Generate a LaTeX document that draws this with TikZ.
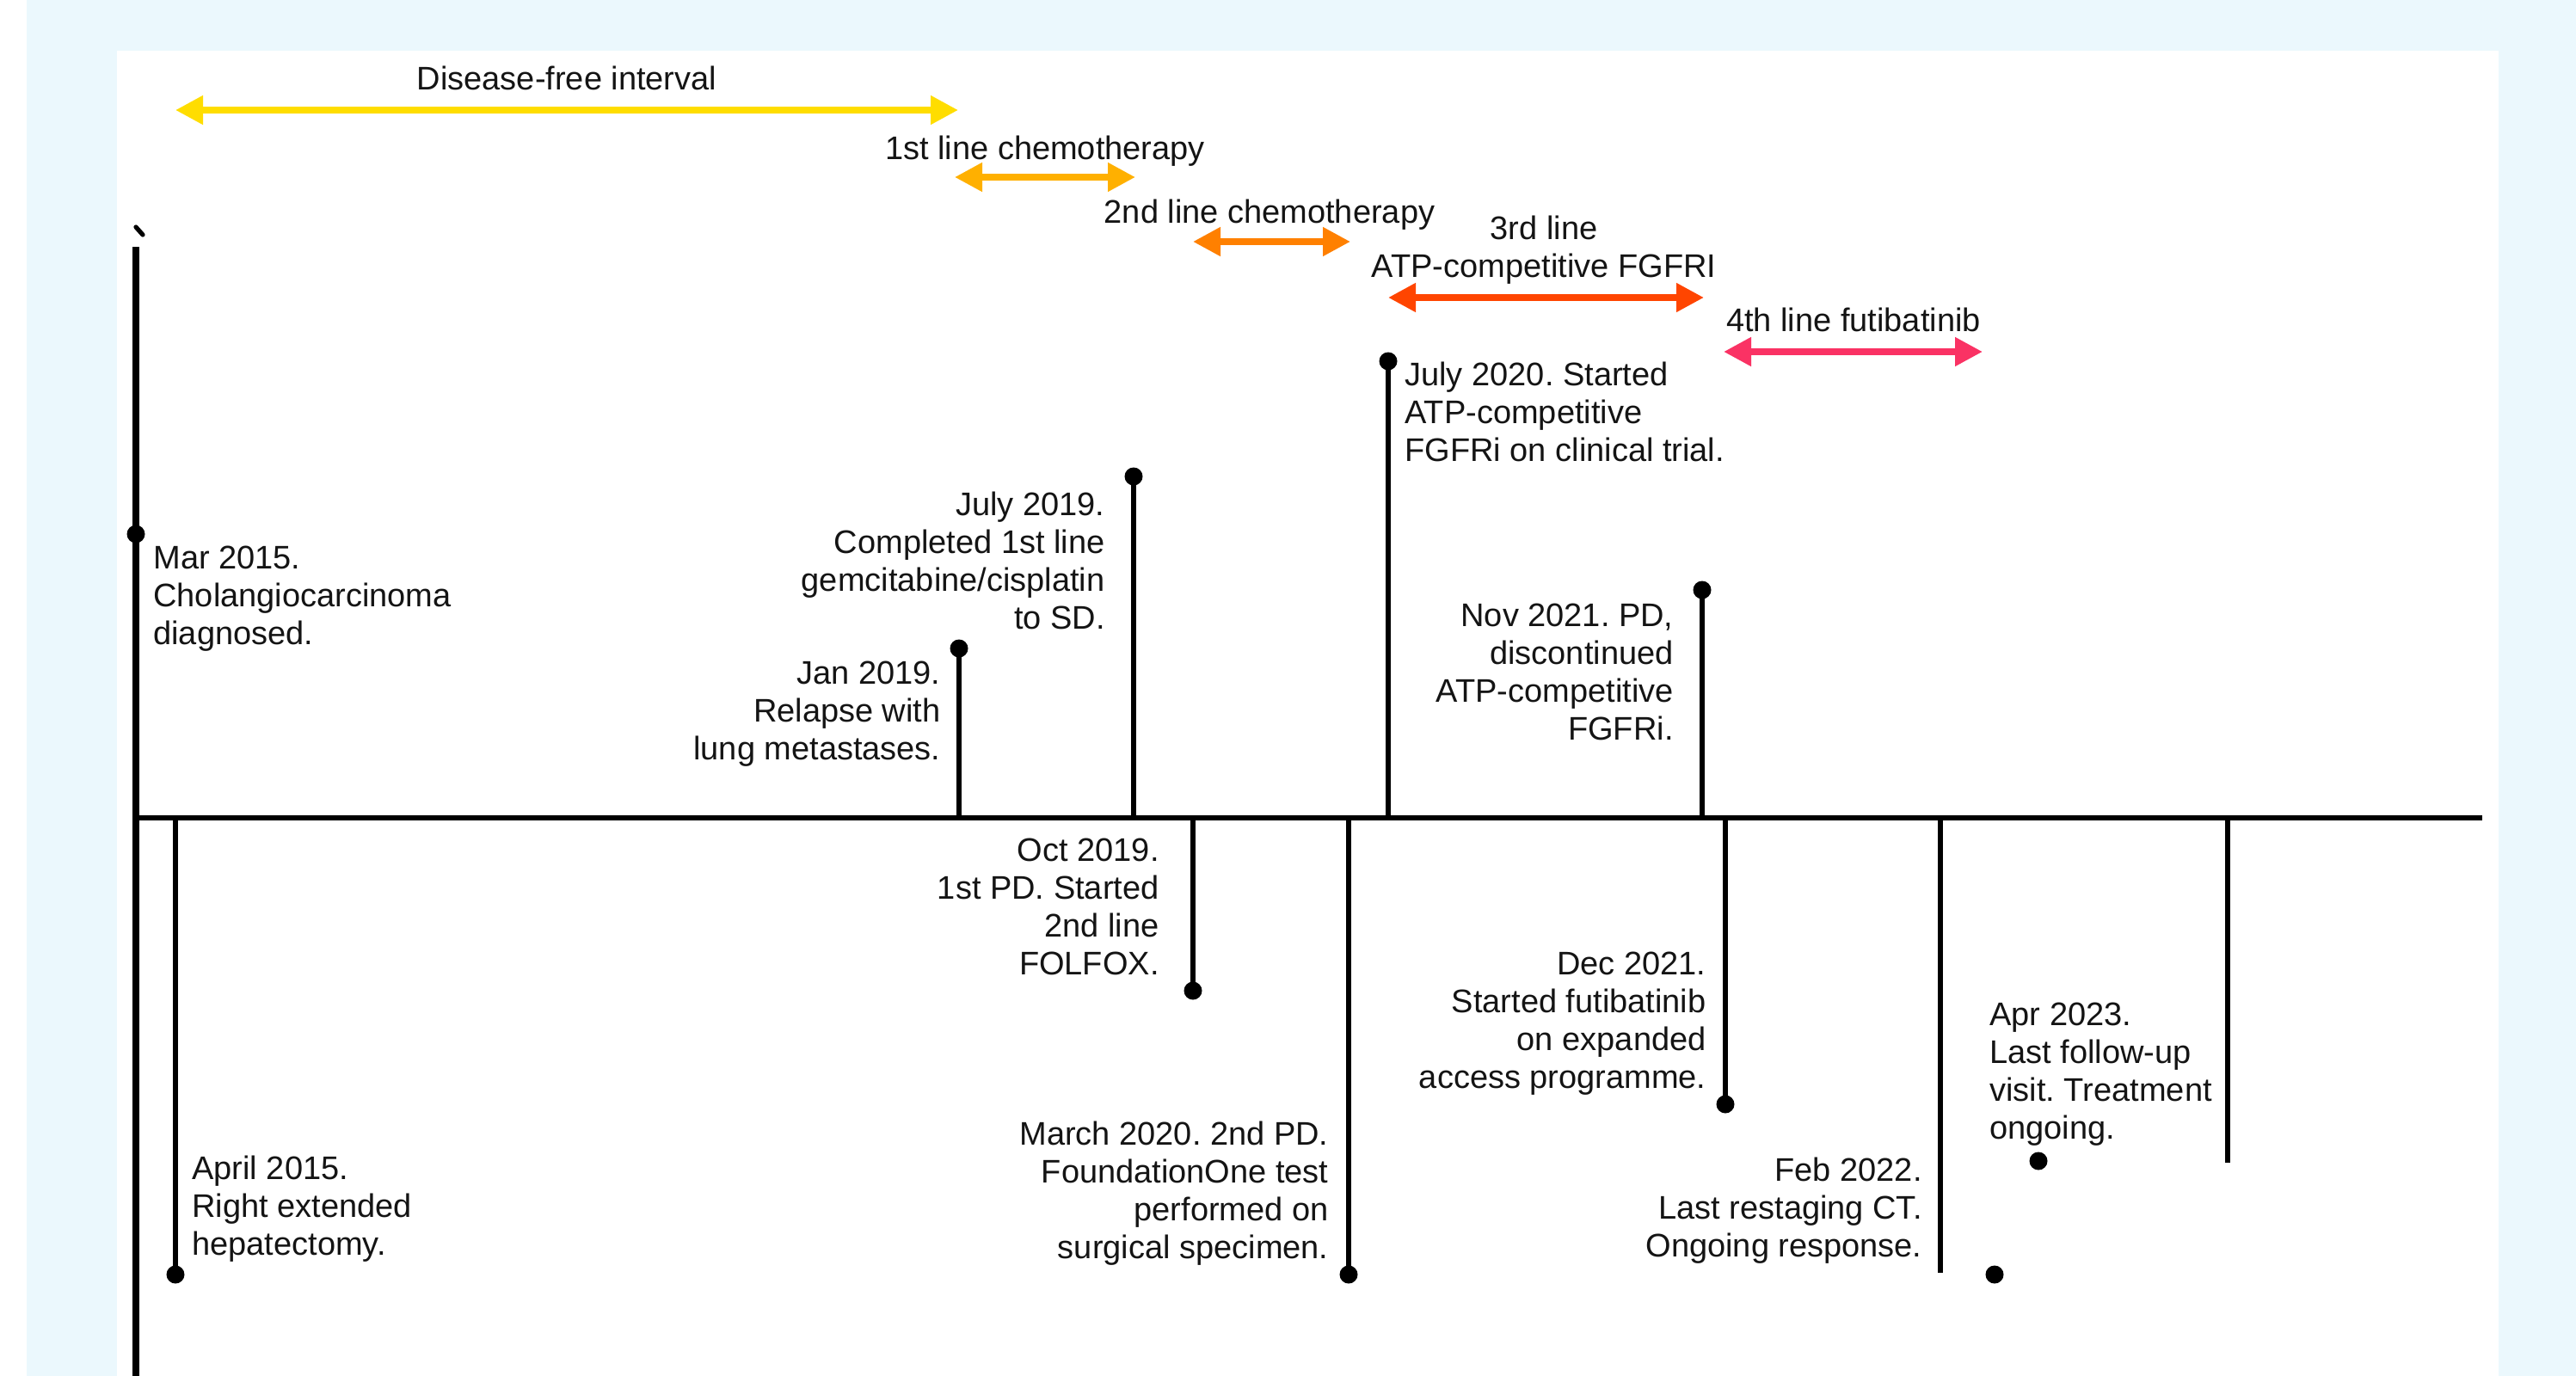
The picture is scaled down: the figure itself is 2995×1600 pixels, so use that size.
\documentclass[tikz,border=0pt]{standalone}
\usepackage{fontspec}
\setmainfont{Liberation Sans}
\usetikzlibrary{arrows.meta}
\definecolor{bgblue}{RGB}{235,248,253}
\definecolor{cDFI}{RGB}{255,221,0}
\definecolor{cLa}{RGB}{255,176,0}
\definecolor{cLb}{RGB}{255,128,0}
\definecolor{cLc}{RGB}{255,69,0}
\definecolor{cLd}{RGB}{250,50,100}
\definecolor{ink}{RGB}{20,20,20}
\frenchspacing
\begin{document}
\begin{tikzpicture}[x=0.5pt,y=-0.5pt,
  lbl/.style={font=\fontsize{19}{22}\selectfont\frenchspacing, text=ink, inner sep=0pt},
  evL/.style={lbl, anchor=north west, align=left},
  evR/.style={lbl, anchor=north east, align=right},
  dotnode/.style={circle, fill=black, inner sep=0pt, minimum size=10.5pt},
  mainline/.style={line width=3.6pt, black},
  axisline/.style={line width=3.2pt, black},
  stem/.style={line width=2.8pt, black},
  span/.style={line width=3.8pt, {Triangle[length=16pt,width=16pt]}-{Triangle[length=16pt,width=16pt]}}
]
\useasboundingbox (0,0) rectangle (2995,1600);
\fill[bgblue] (31,0) rectangle (2995,1600);
\fill[white] (136,59) rectangle (2905,1600);

% main vertical line and axis
\coordinate (vtop) at (158,287);
\coordinate (vbot) at (158,1600);
\draw[mainline] (vtop) -- (vbot);
\coordinate (tk1) at (158,264);
\coordinate (tk2) at (166,273);
\draw[line width=2.6pt, line cap=round] (tk1) -- (tk2);
\coordinate (ax0) at (158,951);
\coordinate (ax1) at (2886,951);
\draw[axisline] (ax0) -- (ax1);

% axis anchor points
\coordinate (aApr15) at (204,951);
\coordinate (aJan19) at (1115,951);
\coordinate (aJul19) at (1318,951);
\coordinate (aOct19) at (1387,951);
\coordinate (aMar20) at (1568,951);
\coordinate (aJul20) at (1614,951);
\coordinate (aNov21) at (1979,951);
\coordinate (aDec21) at (2006,951);
\coordinate (aFeb22) at (2256,951);
\coordinate (eFeb22) at (2256,1480);
\coordinate (aApr23) at (2590,951);
\coordinate (eApr23) at (2590,1352);

% dots
\node[dotnode] (dMar15) at (158,621) {};
\node[dotnode] (dApr15) at (204,1482) {};
\node[dotnode] (dJan19) at (1115,754) {};
\node[dotnode] (dJul19) at (1318,554) {};
\node[dotnode] (dOct19) at (1387,1152) {};
\node[dotnode] (dMar20) at (1568,1482) {};
\node[dotnode] (dJul20) at (1614,420) {};
\node[dotnode] (dNov21) at (1979,686) {};
\node[dotnode] (dDec21) at (2006,1284) {};
\node[dotnode] (dFeb22) at (2319,1482) {};
\node[dotnode] (dApr23) at (2370,1350) {};

% stems
\draw[stem] (aApr15) -- (dApr15.center);
\draw[stem] (aJan19) -- (dJan19.center);
\draw[stem] (aJul19) -- (dJul19.center);
\draw[stem] (aOct19) -- (dOct19.center);
\draw[stem] (aMar20) -- (dMar20.center);
\draw[stem] (aJul20) -- (dJul20.center);
\draw[stem] (aNov21) -- (dNov21.center);
\draw[stem] (aDec21) -- (dDec21.center);
\draw[stem] (aFeb22) -- (eFeb22);
\draw[stem] (aApr23) -- (eApr23);

% event texts
\node[evL] (tMar15) at (178,635) {Mar 2015.\\Cholangiocarcinoma\\diagnosed.};
\node[evL] (tApr15) at (223,1344) {April 2015.\\Right extended\\hepatectomy.};
\node[evR] (tJan19) at (1094,769) {Jan 2019.\\Relapse with\\lung metastases.};
\node[evR] (tJul19) at (1285,572) {July 2019.\\Completed 1st line\\gemcitabine/cisplatin\\to SD.};
\node[evR] (tOct19) at (1348,975) {Oct 2019.\\1st PD. Started\\2nd line\\FOLFOX.};
\node[evL] (tJul20) at (1633,421) {July 2020. Started\\ATP-competitive\\FGFRi on clinical trial.};
\node[evR] (tMar20) at (1545,1304) {March 2020. 2nd PD.\\FoundationOne test\\performed on\\surgical specimen.};
\node[evR] (tNov21) at (1946,702) {Nov 2021. PD,\\discontinued\\ATP-competitive\\FGFRi.};
\node[evR] (tDec21) at (1984,1107) {Dec 2021.\\Started futibatinib\\on expanded\\access programme.};
\node[evR] (tFeb22) at (2235,1346) {Feb 2022.\\Last restaging CT.\\Ongoing response.};
\node[evL] (tApr23) at (2313,1166) {Apr 2023.\\Last follow-up\\visit. Treatment\\ongoing.};

% treatment spans
\coordinate (s0a) at (204,128);  \coordinate (s0b) at (1114,128);
\coordinate (s1a) at (1110,206); \coordinate (s1b) at (1320,206);
\coordinate (s2a) at (1387,281); \coordinate (s2b) at (1570,281);
\coordinate (s3a) at (1614,346); \coordinate (s3b) at (1981,346);
\coordinate (s4a) at (2004,409); \coordinate (s4b) at (2305,409);
\draw[span, cDFI] (s0a) -- (s0b);
\draw[span, cLa] (s1a) -- (s1b);
\draw[span, cLb] (s2a) -- (s2b);
\draw[span, cLc] (s3a) -- (s3b);
\draw[span, cLd] (s4a) -- (s4b);

\node[lbl, anchor=base] (l0) at (659,105) {Disease-free interval};
\node[lbl, anchor=base] (l1) at (1215,185) {1st line chemotherapy};
\node[lbl, anchor=base] (l2) at (1476,259) {2nd line chemotherapy};
\node[lbl, anchor=north, align=center] (l3) at (1795,251) {3rd line\\ATP-competitive FGFRI};
\node[lbl, anchor=base] (l4) at (2155,385) {4th line futibatinib};
\end{tikzpicture}
\end{document}
